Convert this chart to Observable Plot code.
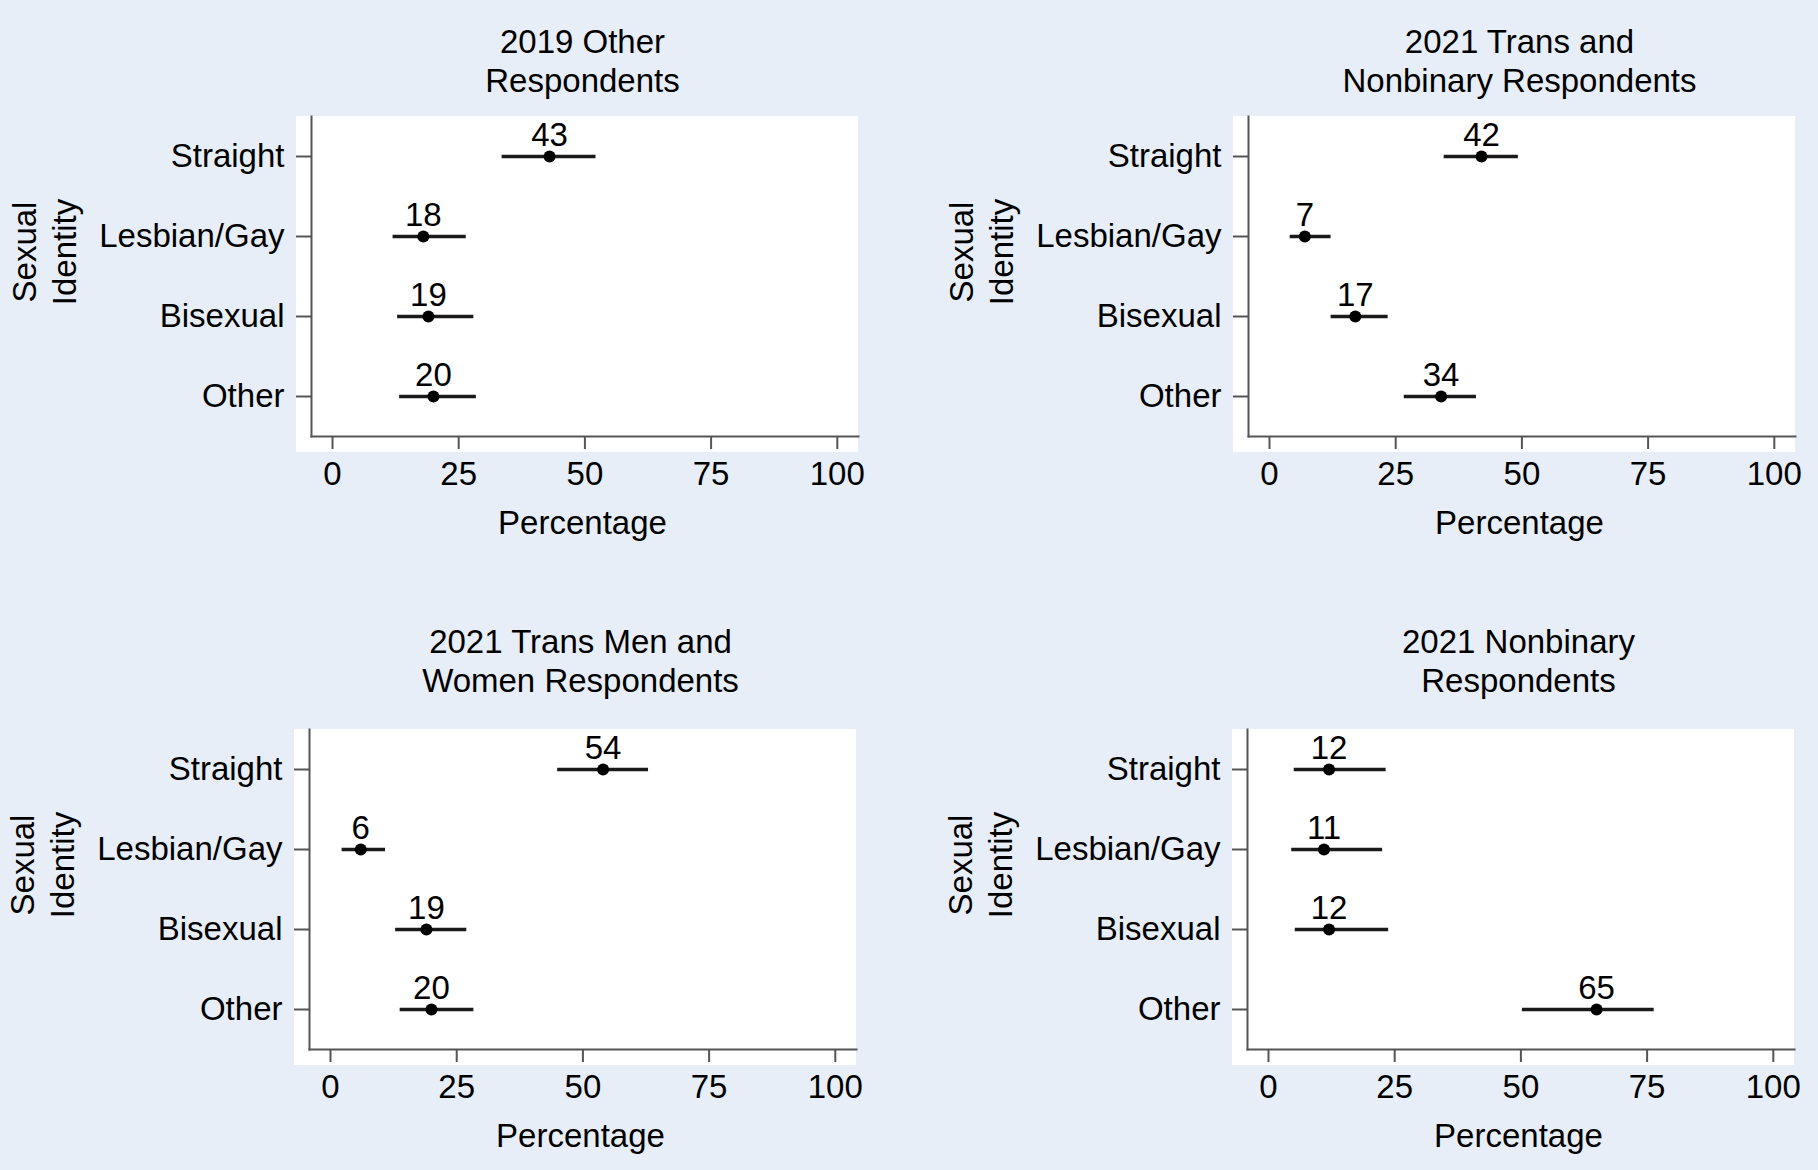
<!DOCTYPE html>
<html>
<head>
<meta charset="utf-8">
<script src="https://cdn.jsdelivr.net/npm/d3@7"></script>
<script src="https://cdn.jsdelivr.net/npm/@observablehq/plot@0.6"></script>
<style>
  html, body { margin: 0; padding: 0; background: #e7eef8; }
  #root { position: relative; width: 1818px; height: 1170px; background: #e7eef8; overflow: hidden;
          font-family: "Liberation Sans", Arial, Helvetica, sans-serif; color: #000; }
  .abs { position: absolute; }
  .title { font-size: 33px; line-height: 39px; text-align: center; width: 700px; }
  .xlab { font-size: 33px; line-height: 40px; text-align: center; width: 400px; }
  .ylab { font-size: 33px; line-height: 40px; text-align: center; width: 300px; height: 80px; transform: rotate(-90deg); }
  .white { background: #ffffff; }
</style>
</head>
<body>
<div id="root"></div>
<script>
// ---- Data ----
const categories = ["Straight", "Lesbian/Gay", "Bisexual", "Other"];
const xTicks = [0, 25, 50, 75, 100];
const xAxisLabel = "Percentage";
const yAxisLabel = ["Sexual", "Identity"];

const titles = [
  ["2019 Other", "Respondents"],
  ["2021 Trans and", "Nonbinary Respondents"],
  ["2021 Trans Men and", "Women Respondents"],
  ["2021 Nonbinary", "Respondents"]
];

const est2019Other = [43, 18, 19, 20];
const lo2019Other  = [33.6, 12.0, 12.9, 13.3];
const hi2019Other  = [52.2, 26.5, 28.0, 28.5];

const est2021TransNB = [42, 7, 17, 34];
const lo2021TransNB  = [34.6, 4.1, 12.2, 26.7];
const hi2021TransNB  = [49.3, 12.2, 23.5, 41.0];

const est2021TransMW = [54, 6, 19, 20];
const lo2021TransMW  = [45.0, 2.3, 12.9, 13.8];
const hi2021TransMW  = [63.0, 10.9, 27.0, 28.4];

const est2021NB = [12, 11, 12, 65];
const lo2021NB  = [5.1, 4.6, 5.3, 50.3];
const hi2021NB  = [23.3, 22.6, 23.8, 76.4];

const series = [
  [est2019Other, lo2019Other, hi2019Other],
  [est2021TransNB, lo2021TransNB, hi2021TransNB],
  [est2021TransMW, lo2021TransMW, hi2021TransMW],
  [est2021NB, lo2021NB, hi2021NB]
];

// ---- Layout ----
const root = document.getElementById("root");
const origins = [[0, 0, 41], [937, 0, 41], [-2, 613, 28], [936, 613, 28]];
const W = 909, H = 585;
const mL = 311, mR = 51, mT = 116, mB = 149;
const fontFamily = '"Liberation Sans", Arial, Helvetica, sans-serif';

function add(cls, left, top, html, extra) {
  const d = document.createElement("div");
  d.className = "abs " + cls;
  d.style.left = left + "px";
  d.style.top = top + "px";
  if (extra) Object.assign(d.style, extra);
  d.innerHTML = html;
  root.appendChild(d);
  return d;
}

series.forEach(([est, lo, hi], i) => {
  const [ox, oy, ty] = origins[i];
  const data = categories.map((c, k) => ({cat: c, est: est[k], lo: lo[k], hi: hi[k]}));
  const cx = ox + (mL + (W - mR)) / 2;

  // white plot region
  add("white", ox + 296, oy + 116, "", {width: "562px", height: "336px"});

  // title
  add("title", cx - 352, oy + ty - 19.5, titles[i].join("<br>"));

  const plot = Plot.plot({
    width: W, height: H,
    marginLeft: mL, marginRight: mR, marginTop: mT, marginBottom: mB,
    style: {background: "transparent", fontSize: "33px", fontFamily, overflow: "visible"},
    x: {domain: [-4.16, 104.2], ticks: xTicks},
    y: {type: "point", domain: categories, padding: 0.5},
    marks: [
      Plot.frame({anchor: "left", stroke: "#555", strokeWidth: 2}),
      Plot.frame({anchor: "bottom", stroke: "#555", strokeWidth: 2}),
      Plot.axisX({ticks: xTicks, tickSize: 13, tickPadding: 12, stroke: "#555", strokeWidth: 2, label: null, fontSize: 33}),
      Plot.axisY({tickSize: 15, tickPadding: 12, stroke: "#555", strokeWidth: 2, label: null, fontSize: 33}),
      Plot.ruleY(data, {y: "cat", x1: "lo", x2: "hi", stroke: "#1a1a1a", strokeWidth: 3.5}),
      Plot.dot(data, {x: "est", y: "cat", r: 6, fill: "#000", stroke: null}),
      Plot.text(data, {x: "est", y: "cat", text: d => String(d.est), dy: -21, fontSize: 33, fill: "#000"})
    ]
  });
  plot.style.position = "absolute";
  plot.style.left = ox + "px";
  plot.style.top = oy + "px";
  root.appendChild(plot);

  // x axis label
  add("xlab", cx - 202, oy + 523 - 20, xAxisLabel);
  // y axis label (rotated)
  add("ylab", ox + 45 - 150, oy + 252 - 40, yAxisLabel.join("<br>"));
});
</script>
</body>
</html>
